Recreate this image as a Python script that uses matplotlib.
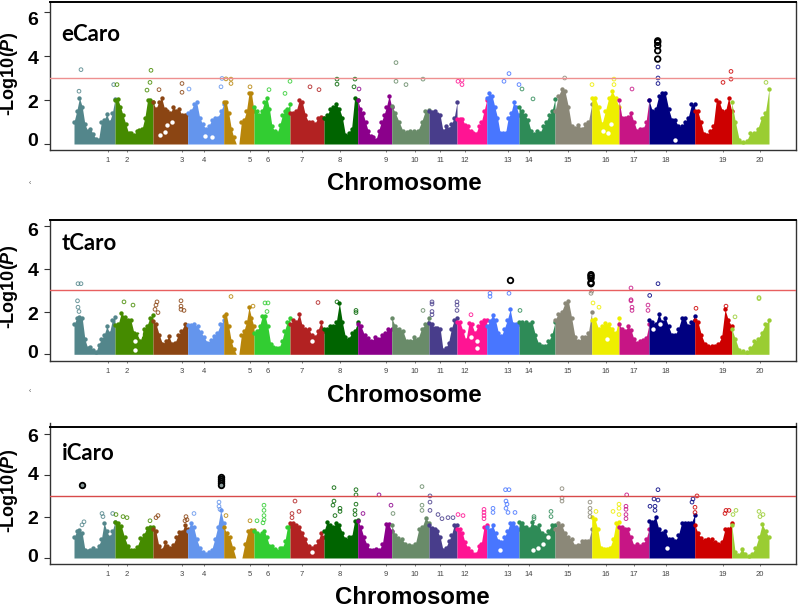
import matplotlib
matplotlib.use("Agg")
import matplotlib.pyplot as plt
import numpy as np

plt.rcParams["font.family"] = ["Liberation Sans", "DejaVu Sans"]
plt.rcParams["mathtext.fontset"] = "custom"
plt.rcParams["mathtext.bfit"] = "Liberation Sans:italic:bold"
plt.rcParams["mathtext.rm"] = "Liberation Sans:bold"

FIG_W, FIG_H = 799, 608

# chromosome borders, x axis runs in plot units
chrom_edges = [74, 115, 153, 187.7, 223.7, 254, 290, 324, 357.7, 391.7, 429, 457,
               486.7, 519, 555, 591.7, 619, 649, 694.7, 731.7, 769]
chrom_ticks = [108, 127, 181.7, 204, 250, 267.7, 302, 339.7, 385.7, 415, 440, 465,
               508, 529, 567.7, 606, 633.7, 666, 723, 759.5]
chrom_labels = [str(i) for i in range(1, 21)]
chrom_colors = ["#53868B", "#458B00", "#8B4513", "#6495ED", "#B8860B", "#32CD32", "#B22222",
                "#006400", "#8B008B", "#698B69", "#483D8B", "#FF1493", "#4876FF", "#2E8B57",
                "#8B8878", "#EEEE00", "#C71585", "#000080", "#CD0000", "#9ACD32"]

# upper edge of the dense point cloud, per chromosome
ecaro_tops = [
    [1.0, 1.5, 2.1, 1.7, 0.9, 0.6, 0.7, 0.45, 0.25, 0.2, 1.0, 1.1, 1.35, 1.0, 1.4, 2.05],
    [2.0, 2.05, 1.7, 1.3, 0.9, 0.5, 0.5, 0.4, 0.6, 0.65, 0.7, 1.2, 2.0, 2.0, 1.9],
    [1.9, 1.6, 1.9, 2.1, 1.6, 1.5, 1.4, 1.7, 1.5, 1.6, 1.3, 1.3, 1.35],
    [1.4, 1.5, 1.8, 1.9, 1.2, 0.9, 0.7, 0.8, 1.1, 1.2, 1.2, 1.5, 1.8],
    [1.9, 1.9, 1.4, 0.7, 0.3, 0, 0, 1.0, 1.1, 1.5, 2.3, 2.3, 1.5],
    [1.7, 1.5, 1.3, 1.5, 1.9, 2.1, 1.6, 0.8, 0.6, 0.5, 0.85, 1.3, 1.5, 1.6, 1.8],
    [1.4, 1.4, 1.5, 2.0, 1.9, 1.3, 1.0, 1.0, 0.9, 1.2, 1.25, 1.2],
    [1.2, 1.3, 1.6, 1.7, 1.8, 1.6, 1.2, 0.4, 0.5, 0.7, 2.1, 2.0],
    [2.0, 1.6, 1.4, 1.0, 0.6, 0.35, 0.3, 0.2, 0.6, 1.0, 1.3, 1.7, 2.2, 1.7],
    [1.75, 1.4, 1.0, 0.6, 0.55, 0.6, 0.6, 0.6, 1.0, 1.5, 1.55],
    [1.5, 1.45, 1.5, 1.35, 1.3, 0.6, 0.8, 0.7, 0.9, 1.2, 1.9],
    [1.15, 1.15, 1.15, 0.85, 0.8, 0.6, 0.5, 0.45, 0.8, 1.0, 1.5, 2.0],
    [2.1, 2.3, 2.2, 1.7, 1.2, 0.5, 0.5, 0.5, 1.2, 1.4, 1.9, 1.7, 1.3],
    [1.7, 1.5, 1.3, 1.1, 0.6, 0.45, 0.6, 0.5, 0.8, 1.0, 1.3, 1.5, 2.05],
    [1.5, 2.2, 2.5, 2.4, 1.7, 0.8, 0.75, 0.85, 0.7, 0.9, 1.0, 1.8],
    [2.1, 2.1, 1.7, 0.9, 1.5, 2.1, 2.4, 2.1, 1.7],
    [2.0, 1.2, 1.2, 1.25, 1.4, 1.0, 0.6, 0.7, 0.7, 1.0, 2.0],
    [2.0, 1.5, 1.6, 2.2, 2.3, 2.3, 1.6, 1.1, 1.1, 0.8, 0.8, 1.0, 1.2, 1.8, 1.8],
    [1.5, 1.5, 1.0, 0.45, 0.4, 0.6, 0.8, 2.0, 1.9, 1.5, 1.5, 2.1, 1.5],
    [1.9, 1.0, 0.2, 0.1, 0.15, 0.5, 0.5, 0.7, 1.2, 1.4, 2.5],
]
tcaro_tops = [
    [1.4, 1.7, 1.75, 1.7, 0.7, 0.3, 0.35, 0.2, 0.1, 0.45, 0.7, 0.9, 1.3, 1.0, 1.6, 1.75],
    [1.35, 1.4, 1.95, 1.75, 1.6, 1.6, 1.0, 0.95, 0.6, 1.2, 1.3, 1.7, 1.85],
    [1.55, 1.4, 0.9, 0.5, 0.6, 0.85, 0.5, 0.55, 0.9, 1.1, 1.4, 1.3],
    [1.35, 1.35, 1.4, 1.3, 1.05, 0.8, 0.55, 0.65, 0.85, 1.0, 1.4, 1.6],
    [1.8, 1.9, 1.3, 0.6, 0.25, 0, 0, 0.9, 1.1, 1.5, 2.2, 1.7, 1.3],
    [1.0, 1.1, 1.3, 1.8, 1.8, 1.3, 0.5, 0.35, 0.3, 0.3, 0.6, 1.1, 1.5, 1.7],
    [1.4, 1.6, 1.5, 1.9, 1.3, 1.2, 1.2, 0.9, 0.8, 1.1, 1.5, 1.1],
    [1.2, 1.2, 1.3, 1.3, 1.5, 2.4, 1.5, 0.8, 0.7, 1.0, 1.1, 1.5],
    [1.4, 1.3, 0.9, 0.75, 0.6, 0.8, 0.7, 0.9, 1.0, 1.2, 1.2],
    [1.7, 1.3, 1.2, 1.1, 0.6, 0.6, 0.8, 0.7, 1.2, 1.4, 1.7],
    [1.45, 1.4, 1.25, 1.25, 1.2, 0.2, 0.3, 0.55, 1.2, 1.6, 1.7],
    [1.5, 1.5, 1.1, 0.65, 1.45, 1.4, 1.0, 1.3, 1.5, 1.6, 1.6],
    [1.3, 1.55, 1.85, 1.6, 1.0, 0.85, 1.2, 1.6, 2.1, 1.4, 1.4, 1.4],
    [1.5, 1.5, 1.5, 1.4, 1.5, 0.9, 0.5, 0.4, 0.4, 0.6, 0.9, 1.5],
    [1.6, 1.9, 2.0, 2.4, 2.5, 1.7, 0.8, 0.6, 0.8, 0.8, 1.0, 2.0],
    [1.6, 1.65, 1.2, 1.3, 1.45, 1.4, 1.2, 1.0, 1.7],
    [1.4, 1.2, 1.1, 1.3, 1.15, 0.7, 0.55, 0.6, 0.65, 0.75, 1.4],
    [1.6, 1.5, 1.4, 1.9, 1.5, 1.7, 1.3, 0.9, 0.9, 1.2, 1.7, 1.7, 1.3, 1.5, 1.8],
    [1.6, 1.5, 0.9, 0.5, 0.4, 0.4, 0.4, 0.5, 0.8, 2.1, 1.6, 1.3],
    [1.2, 0.7, 0.2, 0.15, 0.1, 0.3, 0.6, 0.7, 1.0, 1.4, 1.6],
]
icaro_tops = [
    [1.0, 1.3, 1.35, 1.2, 0.4, 0.35, 0.4, 0.5, 0.4, 0.6, 0.9, 1.7, 1.3, 1.0, 1.3, 1.75],
    [1.75, 1.7, 1.55, 1.0, 0.6, 0.4, 0.4, 0.55, 0.95, 1.1, 1.45, 1.5, 1.5],
    [1.4, 1.3, 0.6, 0.4, 0.75, 0.6, 0.5, 0.65, 1.0, 1.25, 1.25, 1.6, 1.4],
    [1.3, 1.7, 1.5, 0.9, 0.5, 0.3, 0.2, 0.3, 0.4, 0.9, 1.5, 2.3, 1.7],
    [1.5, 1.2, 1.0, 0.5, 0, 0, 0, 0.7, 1.3, 1.35, 1.35],
    [1.3, 1.2, 1.1, 1.2, 1.3, 1.0, 0.6, 0.6, 0.45, 0.35, 0.5, 0.5, 0.8, 1.5, 1.55],
    [1.7, 1.7, 1.6, 1.5, 1.2, 0.9, 0.6, 0.5, 0.6, 0.8, 1.2, 1.0],
    [1.3, 1.75, 1.6, 1.5, 1.7, 1.6, 1.2, 0.9, 1.0, 1.0, 1.8, 1.85],
    [1.8, 1.5, 1.0, 0.65, 0.4, 0.4, 0.45, 0.4, 0.7, 1.65, 1.65, 1.3],
    [1.6, 1.1, 0.95, 0.9, 0.7, 0.65, 0.6, 0.7, 1.4, 1.5, 1.95, 1.7],
    [1.6, 1.45, 1.4, 1.3, 1.0, 0.4, 0.5, 0.8, 1.1, 1.6, 1.6],
    [1.4, 1.4, 1.2, 0.75, 0.5, 0.35, 0.2, 0.2, 0.6, 0.7, 1.5, 1.6],
    [1.5, 1.35, 1.6, 1.2, 0.8, 0.75, 1.0, 1.3, 1.7, 1.7, 1.5, 1.4],
    [1.75, 1.7, 1.5, 1.4, 1.75, 1.5, 1.6, 1.2, 1.1, 1.3, 1.6, 1.6],
    [1.4, 1.7, 1.6, 1.2, 1.0, 0.9, 0.6, 0.65, 0.8, 0.8, 0.8, 1.4],
    [2.0, 1.9, 1.4, 0.5, 0.45, 0.45, 0.5, 0.9, 1.7, 1.75],
    [1.5, 1.5, 1.4, 1.4, 1.0, 0.6, 0.7, 0.6, 0.7, 0.9, 1.4],
    [1.8, 1.75, 2.0, 1.4, 1.2, 1.3, 0.9, 0.9, 0.8, 1.1, 1.7, 1.7, 1.7, 1.7, 2.1],
    [1.6, 1.2, 0.95, 0.85, 0.9, 0.9, 0.75, 0.7, 0.75, 1.4, 1.4, 1.7],
    [1.6, 0.3, 0.15, 0.45, 0.2, 0.1, 0.2, 0.5, 1.0, 1.65, 1.3, 1.0],
]

# white gaps inside the cloud
ecaro_gap_pos = [167, 165, 172, 160, 205, 212, 603, 608, 675, 611]
ecaro_gap_val = [0.85, 0.55, 1.0, 0.4, 0.35, 0.3, 0.6, 0.5, 0.2, 0.9]
tcaro_gap_pos = [135, 135, 140, 477, 477, 471, 607, 312, 653, 660]
tcaro_gap_val = [0.2, 0.6, 0.9, 0.6, 0.3, 0.8, 0.7, 0.6, 1.2, 1.4]
icaro_gap_pos = [538, 543, 533, 500, 548, 667, 312]
icaro_gap_val = [0.5, 0.7, 0.4, 0.4, 1.0, 0.5, 0.3]

# single points standing clear of the cloud
ecaro_pos = [81, 79, 113.7, 117, 151, 150, 147, 159, 182, 182, 189, 222, 226, 231, 231, 221, 250, 269,
             290, 285, 310, 319, 337, 337, 355, 354, 359, 396, 396, 406, 423, 458, 462, 462, 509, 504,
             519, 522, 533, 564.7, 592, 614, 614, 632, 658, 658, 658, 723, 731, 731, 766]
ecaro_val = [3.38, 2.4, 2.7, 2.7, 3.35, 2.8, 2.45, 2.47, 2.75, 2.35, 2.5, 2.98, 2.96, 2.95, 2.75, 2.6, 2.6, 2.47,
             2.85, 2.3, 2.6, 2.47, 2.95, 2.72, 2.95, 2.6, 2.5, 3.7, 2.85, 2.7, 2.95, 2.85, 2.9, 2.7, 3.2, 2.85,
             2.7, 2.5, 2.05, 3.0, 2.7, 2.95, 2.7, 2.5, 3.5, 3.0, 2.75, 2.8, 3.3, 2.95, 2.8]
tcaro_pos = [78, 81, 77.5, 78, 79, 124, 133, 157, 156, 155, 158, 181, 181, 181, 184, 231, 253, 265, 268, 267,
             318, 337, 356, 356, 490, 490, 509, 432, 432, 432, 432, 423, 457, 457, 457, 471, 520, 591.7, 591,
             593, 599, 631, 631, 631, 632, 632, 649.7, 648, 648, 658, 759, 759, 696, 726, 735]
tcaro_val = [3.3, 3.3, 2.5, 2.2, 2.0, 2.45, 2.3, 2.45, 2.3, 2.1, 1.95, 2.5, 2.25, 2.1, 2.05, 2.7, 2.25, 2.4, 2.4, 2.0,
             2.42, 2.45, 2.05, 1.95, 2.85, 2.7, 2.85, 2.45, 2.35, 2.0, 1.85, 2.05, 2.45, 2.3, 2.05, 1.85, 2.05, 2.95, 2.85,
             2.4, 2.2, 3.1, 2.55, 2.5, 2.2, 2.05, 2.75, 2.3, 2.05, 3.3, 2.6, 2.65, 2.15, 2.25, 1.75]
icaro_pos = [84, 82, 102, 103, 112.7, 116, 123, 127, 150, 158, 156, 186, 185, 194, 187, 219, 219, 226, 220, 250,
             263, 257, 264, 264, 264, 264, 292, 292, 299, 295, 334, 334, 333, 335, 340, 340, 356, 356, 356, 355,
             355, 363, 379, 391, 393, 422, 430, 422, 422, 430, 430, 438, 442, 448, 453, 458, 463, 484, 484, 484,
             484, 493, 493, 505.5, 509, 506, 507, 506, 508, 515, 534, 534, 551, 551, 562, 562, 562, 590, 590, 590,
             590, 596, 619, 619, 613, 619, 626.7, 626, 626, 626, 626, 650, 658, 654, 658, 655, 655, 693, 697, 692,
             695, 695, 726, 729, 725, 733, 736, 759, 763, 760]
icaro_val = [1.75, 1.6, 2.15, 2.0, 2.15, 2.1, 2.0, 1.95, 1.8, 2.05, 1.95, 2.0, 1.8, 2.15, 1.85, 2.7, 2.5, 2.05, 2.35, 1.8,
             1.7, 1.8, 2.55, 2.3, 2.05, 1.85, 1.95, 2.15, 2.25, 2.75, 3.4, 2.75, 2.55, 2.05, 2.4, 2.25, 3.3, 3.05, 2.6, 2.3,
             2.1, 2.15, 3.05, 2.55, 2.15, 3.45, 3.0, 2.55, 2.3, 2.7, 2.3, 2.1, 1.9, 1.95, 1.95, 2.1, 2.05, 2.35, 2.2, 2.05,
             1.9, 2.4, 2.2, 3.3, 3.3, 2.75, 2.6, 2.4, 2.2, 2.2, 2.0, 1.9, 2.25, 2.0, 3.35, 2.9, 2.75, 2.7, 2.4, 2.2,
             2.0, 2.25, 2.6, 2.4, 2.25, 2.1, 3.05, 2.5, 2.35, 2.1, 1.9, 2.5, 3.3, 2.85, 2.8, 2.5, 2.3, 2.85, 3.0, 2.7,
             2.45, 2.2, 2.3, 2.3, 2.15, 2.1, 2.3, 2.25, 2.1, 2.0]

# circled hits above the threshold
ecaro_hit_pos = [657.7, 657.7, 657.7, 657.7, 657.7]
ecaro_hit_val = [4.69, 4.62, 4.47, 4.24, 3.86]
tcaro_hit_pos = [510.5, 591, 591, 591, 591, 591]
tcaro_hit_val = [3.45, 3.72, 3.65, 3.55, 3.35, 3.3]
icaro_hit_pos = [82, 220.5, 220.5, 220.5, 220.5, 220.5]
icaro_hit_val = [3.55, 3.9, 3.8, 3.7, 3.62, 3.55]

threshold = 3
y_ticks = [0, 2, 4, 6]
y_tick_text = ["0", "2", "4", "6"]


def px_text(fig, x, y, s, **kw):
    # place text by image pixels, origin top left
    return fig.text(x / FIG_W, 1 - y / FIG_H, s, **kw)


def draw_panel(fig, top_px, bottom_px, zero_px, unit_px, name, name_xy, tops, gap_pos, gap_val, pos, val,
               hit_pos, hit_val, hit_face, line_color, y_label_px, y_label_mid, x_label_xy, frame_top_px=None):
    frame_top = top_px if frame_top_px is None else frame_top_px
    ax = fig.add_axes([49.5 / FIG_W, 1 - bottom_px / FIG_H, (796 - 49.5) / FIG_W, (bottom_px - frame_top) / FIG_H])
    ax.set_xlim(49.5, 796)
    ax.set_ylim((zero_px - bottom_px) / unit_px, (zero_px - frame_top) / unit_px)

    for i, heights in enumerate(tops):
        x = np.linspace(chrom_edges[i], chrom_edges[i + 1], len(heights))
        h = np.array(heights, dtype=float)
        ax.fill_between(x, 0, h, color=chrom_colors[i], lw=0, zorder=2)
        keep = h > 0
        ax.scatter(x[keep], h[keep], s=10, color=chrom_colors[i], linewidths=0, zorder=2)

    ax.scatter(gap_pos, gap_val, s=10, color="white", linewidths=0, zorder=2.5)

    pos = np.array(pos, dtype=float)
    idx = np.clip(np.searchsorted(chrom_edges, pos) - 1, 0, 19)
    ax.scatter(pos, val, s=7, facecolors="none", edgecolors=[chrom_colors[k] for k in idx], linewidths=0.7,
               alpha=0.85, zorder=3)
    ax.scatter(hit_pos, hit_val, s=16, facecolors=hit_face, edgecolors="black", linewidths=1.3, zorder=4)

    ax.axhline(threshold, color=line_color, lw=1.0, zorder=3)

    ax.set_xticks(chrom_ticks)
    ax.set_xticklabels(chrom_labels, fontsize=5.5, color="#444444")
    ax.tick_params(axis="x", length=1.5, width=0.6, pad=3.5, color="#666666")
    ax.set_yticks(y_ticks)
    ax.set_yticklabels([])
    ax.tick_params(axis="y", length=4, width=0.8, color="#333333")

    for spine in ax.spines.values():
        spine.set_color("#333333")
        spine.set_linewidth(1.0)
    ax.spines["top"].set_visible(False)
    ax.plot([0, 1], [(zero_px - top_px) / unit_px] * 2, transform=ax.get_yaxis_transform(), color="black",
            lw=1.4, clip_on=False, zorder=5)

    px_text(fig, name_xy[0], name_xy[1], name, fontsize=16, fontweight="bold", family="Lato", va="baseline")
    px_text(fig, 10, y_label_mid, r"-Log10($\mathbfit{P}$)", fontsize=13, fontweight="bold", rotation=90,
            ha="center", va="center")
    for s, y in zip(y_tick_text, y_label_px):
        px_text(fig, 33, y, s, fontsize=14, fontweight="bold", ha="center", va="center")
    px_text(fig, x_label_xy[0], x_label_xy[1], "Chromosome", fontsize=17.3, fontweight="bold", ha="center", va="center")
    return ax


def main() -> None:
    fig = plt.figure(figsize=(FIG_W / 100, FIG_H / 100), dpi=100)
    draw_panel(fig, 2, 150, 144, 22, "eCaro", (61, 41), ecaro_tops, ecaro_gap_pos, ecaro_gap_val, ecaro_pos, ecaro_val,
               ecaro_hit_pos, ecaro_hit_val, "none", "#EE9090", [142, 103, 60, 20.7], 74, (404, 183))
    draw_panel(fig, 219.5, 361, 354.3, 21.4, "tCaro", (62, 250), tcaro_tops, tcaro_gap_pos, tcaro_gap_val, tcaro_pos, tcaro_val,
               tcaro_hit_pos, tcaro_hit_val, "none", "#E86060", [354, 315.7, 271.7, 232], 287, (404, 396))
    draw_panel(fig, 427, 564, 558, 20.7, "iCaro", (62, 460), icaro_tops, icaro_gap_pos, icaro_gap_val, icaro_pos, icaro_val,
               icaro_hit_pos, icaro_hit_val, "#8A9A9A", "#D84A4A", [558, 519.7, 476, 437], 491, (412.5, 597), frame_top_px=423)
    px_text(fig, 30, 183, "\u2039", fontsize=5, color="#555555", ha="center", va="center")
    px_text(fig, 30, 392, "\u2039", fontsize=5, color="#555555", ha="center", va="center")
    fig.savefig("out.png", dpi=100)
    plt.close(fig)


if __name__ == "__main__":
    main()
